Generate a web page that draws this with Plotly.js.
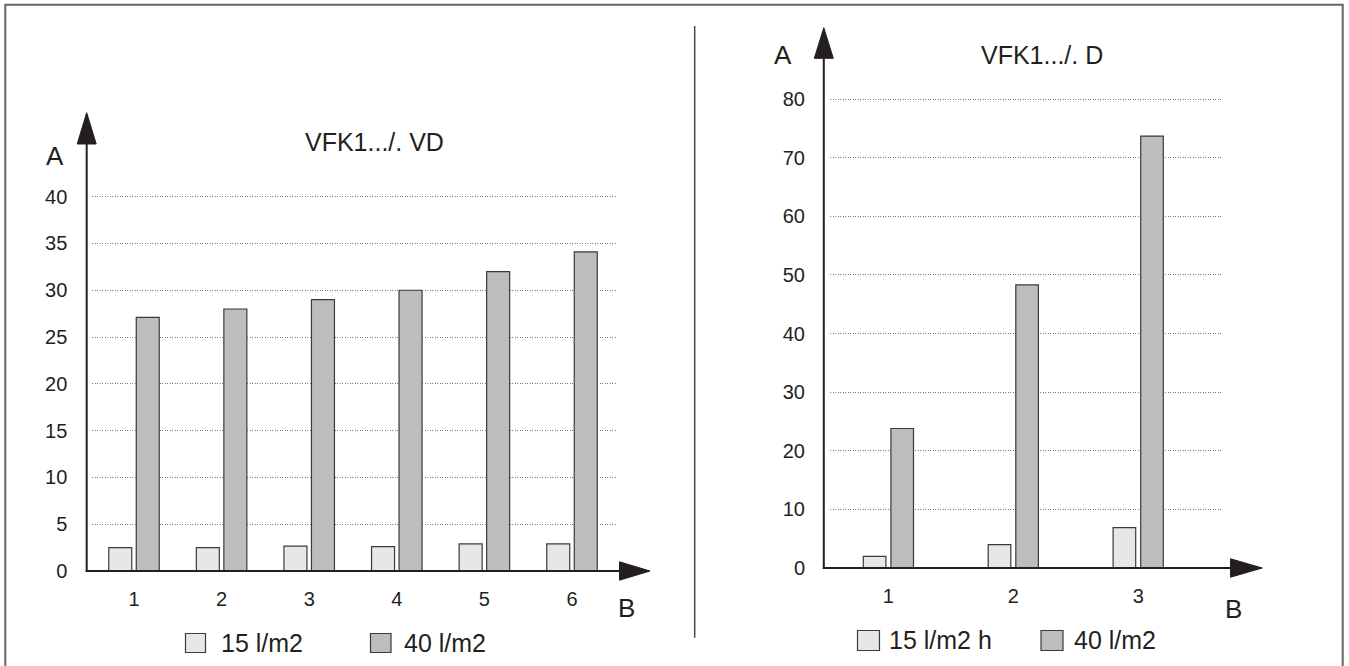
<!DOCTYPE html>
<html>
<head>
<meta charset="utf-8">
<script src="https://cdn.plot.ly/plotly-3.0.1.min.js"></script>
<style>html,body{margin:0;padding:0;background:#fff;}#chart{width:1349px;height:666px;}</style>
</head>
<body>
<div id="chart"></div>
<script>
// ---- data ----
const leftCategories = [1, 2, 3, 4, 5, 6];
const leftSeries15 = [2.5, 2.5, 2.65, 2.6, 2.9, 2.9];
const leftSeries40 = [27.1, 28.0, 29.0, 30.0, 32.0, 34.1];
const leftTickVals = [0, 5, 10, 15, 20, 25, 30, 35, 40];
const leftTitle = 'VFK1.../. VD';
const leftLegendNames = ['15 l/m2', '40 l/m2'];

const rightCategories = [1, 2, 3];
const rightSeries15 = [2.0, 4.0, 6.9];
const rightSeries40 = [23.8, 48.3, 73.7];
const rightTickVals = [0, 10, 20, 30, 40, 50, 60, 70, 80];
const rightTitle = 'VFK1.../. D';
const rightLegendNames = ['15 l/m2 h', '40 l/m2'];

const axisLabelY = 'A';
const axisLabelX = 'B';

// ---- layout helpers (pixel -> paper) ----
const W = 1349, H = 666;
const X = p => p / W;
const Y = p => 1 - p / H;
const INK = '#231f20';
const LIGHT = '#e6e7e8';
const DARK = '#bcbdbf';
const FONT = 'Liberation Sans, Arial, Helvetica, sans-serif';

// left panel geometry
const L = {plotL: 92.3, plotR: 617.4, base: 571, c1: 134, step: 87.6, unit: 9.3575, ymax: 41,
           axisX: 86.7, yTip: 112.7, yBase: 144, xTip: 650, xBase: 619.5, barW: 23, gap: 4.5};
// right panel geometry
const R = {plotL: 830, plotR: 1221.8, base: 568, c1: 888.4, step: 124.9, unit: 5.861, ymax: 82,
           axisX: 823.8, yTip: 27.7, yBase: 58.3, xTip: 1262.3, xBase: 1230.5, barW: 22.6, gap: 5};

function xr(g) { return [1 + (g.plotL - g.c1) / g.step, 1 + (g.plotR - g.c1) / g.step]; }
function ydom(g) { return [Y(g.base), Y(g.base - g.ymax * g.unit)]; }

function barTraces(g, cats, v15, v40, names, xa, ya) {
  const w = g.barW / g.step, gp = g.gap / g.step;
  const line = {color: '#3a3a3a', width: 1.2};
  return [
    {type: 'bar', x: cats, y: v15, name: names[0], xaxis: xa, yaxis: ya, width: w, offset: -(w + gp / 2),
     marker: {color: LIGHT, line: line}, showlegend: false, hoverinfo: 'x+y'},
    {type: 'bar', x: cats, y: v40, name: names[1], xaxis: xa, yaxis: ya, width: w, offset: gp / 2,
     marker: {color: DARK, line: line}, showlegend: false, hoverinfo: 'x+y'}
  ];
}

const data = [
  ...barTraces(L, leftCategories, leftSeries15, leftSeries40, leftLegendNames, 'x', 'y'),
  ...barTraces(R, rightCategories, rightSeries15, rightSeries40, rightLegendNames, 'x2', 'y2')
];

const tickFont = {family: FONT, size: 20, color: INK};
function xAxis(g, cats) {
  return {domain: [X(g.plotL), X(g.plotR)], range: xr(g), tickvals: cats, ticktext: cats.map(String),
          showgrid: false, zeroline: false, showline: false, ticks: '', tickfont: tickFont,
          ticklabelstandoff: 14, fixedrange: true};
}
function yAxis(g, ticks, anchor) {
  return {domain: ydom(g), range: [0, g.ymax], tickvals: ticks, anchor: anchor,
          showgrid: true, gridcolor: '#7a7a7a', griddash: '1px,1.5px', gridwidth: 1,
          zeroline: false, showline: false, ticks: '', tickfont: tickFont,
          ticklabelstandoff: 24, fixedrange: true};
}

function tri(x1, y1, x2, y2, x3, y3) {
  return {type: 'path', xref: 'paper', yref: 'paper', layer: 'above',
          path: `M${X(x1)},${Y(y1)} L${X(x2)},${Y(y2)} L${X(x3)},${Y(y3)} Z`,
          fillcolor: INK, line: {color: INK, width: 1}};
}
function seg(x1, y1, x2, y2, color, width) {
  return {type: 'line', xref: 'paper', yref: 'paper', layer: 'above',
          x0: X(x1), y0: Y(y1), x1: X(x2), y1: Y(y2), line: {color: color, width: width}};
}
function box(x0, y0, x1, y1, fill) {
  return {type: 'rect', xref: 'paper', yref: 'paper', layer: 'above',
          x0: X(x0), y0: Y(y0), x1: X(x1), y1: Y(y1), fillcolor: fill, line: {color: '#3a3a3a', width: 1.2}};
}
function axesShapes(g) {
  return [
    seg(g.axisX, g.base + 1, g.axisX, g.yBase, INK, 2),
    tri(g.axisX, g.yTip, g.axisX - 9.5, g.yBase, g.axisX + 9.5, g.yBase),
    seg(g.axisX - 1, g.base, g.xBase, g.base, INK, 2),
    tri(g.xTip, g.base, g.xBase, g.base - 9.2, g.xBase, g.base + 9.2)
  ];
}

const shapes = [
  // outer frame and divider
  {type: 'rect', xref: 'paper', yref: 'paper', x0: X(5.3), y0: Y(4.7), x1: X(1342.7), y1: Y(700),
   line: {color: '#666666', width: 2}, fillcolor: 'rgba(0,0,0,0)'},
  seg(694.7, 26, 694.7, 637.7, '#4a4a4a', 1.5),
  ...axesShapes(L), ...axesShapes(R),
  // legend swatches
  box(185.5, 633.5, 205.5, 652.5, LIGHT), box(370.5, 633.5, 391, 652.5, DARK),
  box(857.5, 630.5, 879.5, 650.5, LIGHT), box(1041, 630.5, 1063, 650.5, DARK)
];

function txt(t, x, y, size, xanchor) {
  return {text: t, xref: 'paper', yref: 'paper', x: X(x), y: Y(y), showarrow: false,
          xanchor: xanchor || 'center', yanchor: 'middle', font: {family: FONT, size: size, color: INK}};
}

const annotations = [
  txt(leftTitle, 374.6, 141.5, 25),
  txt(rightTitle, 1042, 54.5, 25),
  txt(axisLabelY, 54.7, 156, 26),
  txt(axisLabelY, 782.8, 55, 26),
  txt(axisLabelX, 626.7, 607.5, 26),
  txt(axisLabelX, 1233.8, 609.4, 26),
  txt(leftLegendNames[0], 219, 643, 25, 'left'),
  txt(leftLegendNames[1], 402, 643, 25, 'left'),
  txt(rightLegendNames[0], 887, 640, 25, 'left'),
  txt(rightLegendNames[1], 1071.5, 640, 25, 'left')
];

const layout = {
  width: W, height: H, margin: {l: 0, r: 0, t: 0, b: 0},
  paper_bgcolor: '#ffffff', plot_bgcolor: 'rgba(0,0,0,0)',
  showlegend: false, barmode: 'overlay',
  font: {family: FONT, color: INK},
  xaxis: xAxis(L, leftCategories),
  yaxis: yAxis(L, leftTickVals, 'x'),
  xaxis2: Object.assign(xAxis(R, rightCategories), {anchor: 'y2'}),
  yaxis2: yAxis(R, rightTickVals, 'x2'),
  shapes: shapes,
  annotations: annotations
};
layout.xaxis.anchor = 'y';

Plotly.newPlot('chart', data, layout, {staticPlot: true, displayModeBar: false});
</script>
</body>
</html>
